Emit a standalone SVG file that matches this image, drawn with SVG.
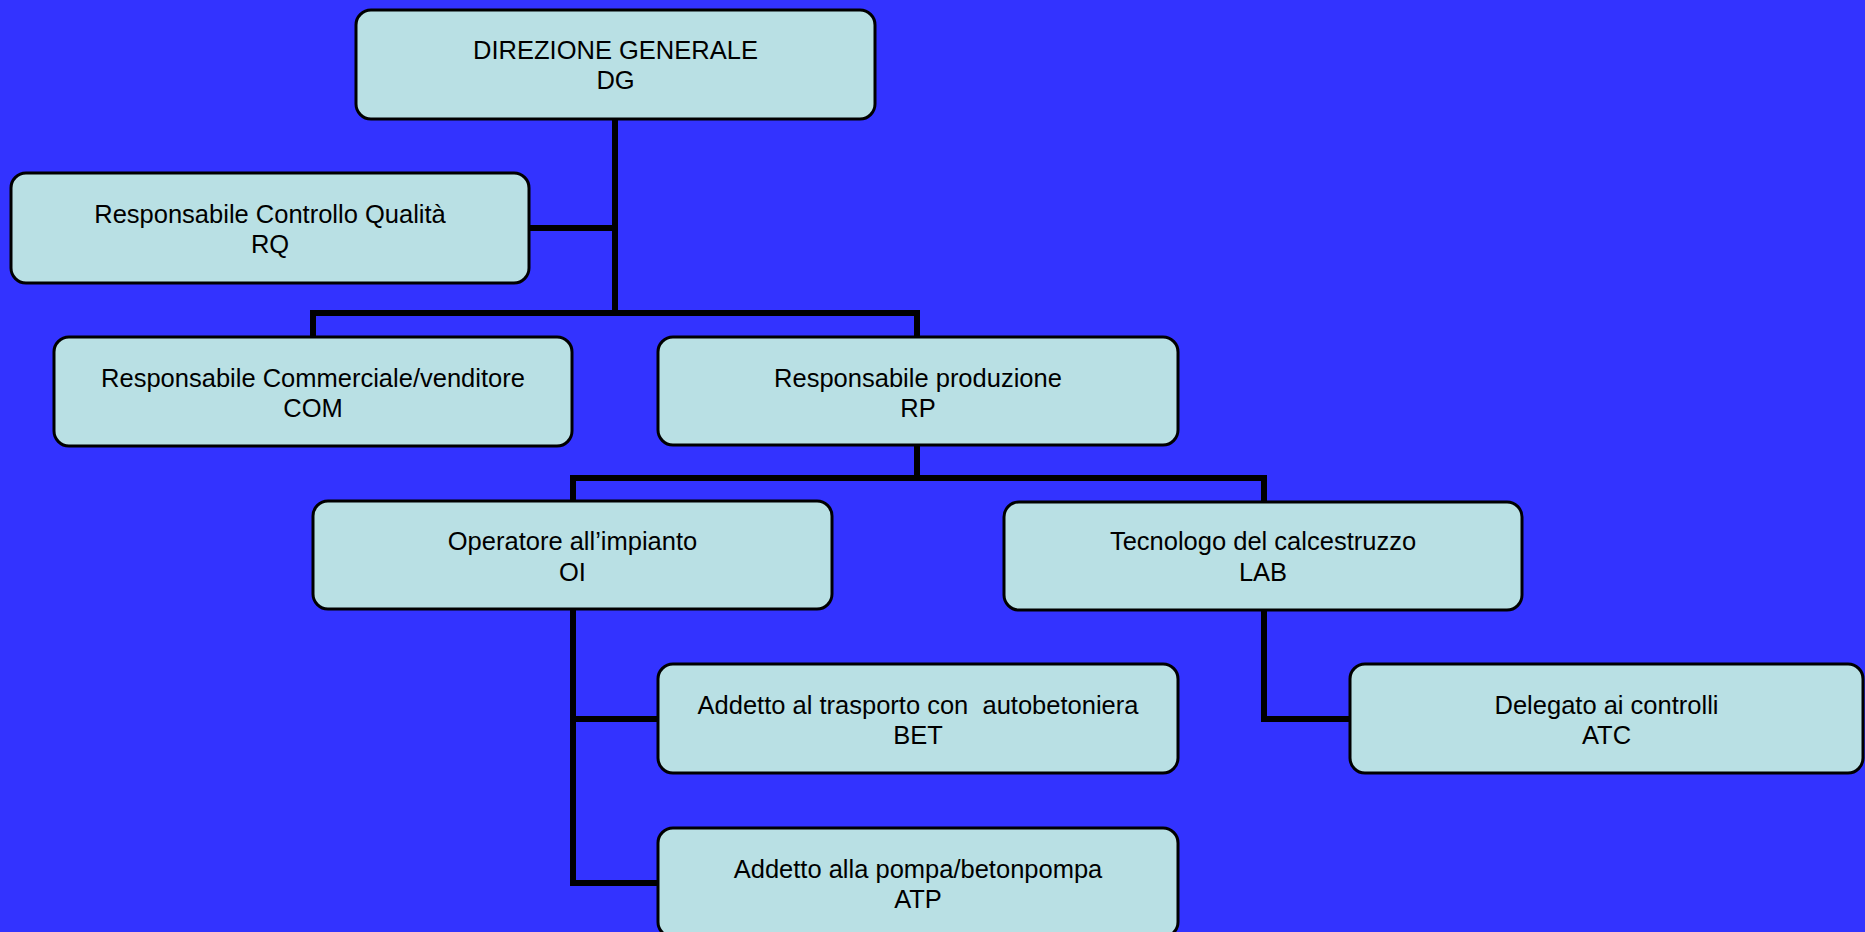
<svg xmlns="http://www.w3.org/2000/svg" width="1865" height="932" viewBox="0 0 1865 932">
<style>
.box{fill:#B9E0E4;stroke:#000;stroke-width:3}
.lbl{font-family:"Liberation Sans",Arial,sans-serif;font-size:25.5px;fill:#000;text-anchor:middle}
.con{fill:none;stroke:#000;stroke-width:6;stroke-linejoin:miter;stroke-linecap:square}
</style>
<rect x="0" y="0" width="1865" height="932" fill="#3333FF"/>
<g id="connectors">
<path class="con" d="M615 119 V313"/>
<path class="con" d="M529 228 H615"/>
<path class="con" d="M313 337 V313 H917 V337"/>
<path class="con" d="M917 445 V478"/>
<path class="con" d="M573 501 V478 H1264 V502"/>
<path class="con" d="M573 609 V883 H658"/>
<path class="con" d="M573 719 H658"/>
<path class="con" d="M1264 610 V719 H1350"/>
</g>
<g id="DG">
<rect class="box" x="356" y="10" width="519" height="109" rx="15"/>
<text class="lbl" x="615.5" y="59">DIREZIONE GENERALE</text>
<text class="lbl" x="615.5" y="89">DG</text>
</g>
<g id="RQ">
<rect class="box" x="11" y="173" width="518" height="110" rx="15"/>
<text class="lbl" x="270" y="223">Responsabile Controllo Qualità</text>
<text class="lbl" x="270" y="253">RQ</text>
</g>
<g id="COM">
<rect class="box" x="54" y="337" width="518" height="109" rx="15"/>
<text class="lbl" x="313" y="387">Responsabile Commerciale/venditore</text>
<text class="lbl" x="313" y="417">COM</text>
</g>
<g id="RP">
<rect class="box" x="658" y="337" width="520" height="108" rx="15"/>
<text class="lbl" x="918" y="387">Responsabile produzione</text>
<text class="lbl" x="918" y="417">RP</text>
</g>
<g id="OI">
<rect class="box" x="313" y="501" width="519" height="108" rx="15"/>
<text class="lbl" x="572.5" y="550">Operatore all’impianto</text>
<text class="lbl" x="572.5" y="581">OI</text>
</g>
<g id="LAB">
<rect class="box" x="1004" y="502" width="518" height="108" rx="15"/>
<text class="lbl" x="1263" y="550">Tecnologo del calcestruzzo</text>
<text class="lbl" x="1263" y="581">LAB</text>
</g>
<g id="BET">
<rect class="box" x="658" y="664" width="520" height="109" rx="15"/>
<text class="lbl" x="918" y="714" xml:space="preserve">Addetto al trasporto con  autobetoniera</text>
<text class="lbl" x="918" y="744">BET</text>
</g>
<g id="ATC">
<rect class="box" x="1350" y="664" width="513" height="109" rx="15"/>
<text class="lbl" x="1606.5" y="714">Delegato ai controlli</text>
<text class="lbl" x="1606.5" y="744">ATC</text>
</g>
<g id="ATP">
<rect class="box" x="658" y="828" width="520" height="109" rx="15"/>
<text class="lbl" x="918" y="878">Addetto alla pompa/betonpompa</text>
<text class="lbl" x="918" y="908">ATP</text>
</g>
</svg>
